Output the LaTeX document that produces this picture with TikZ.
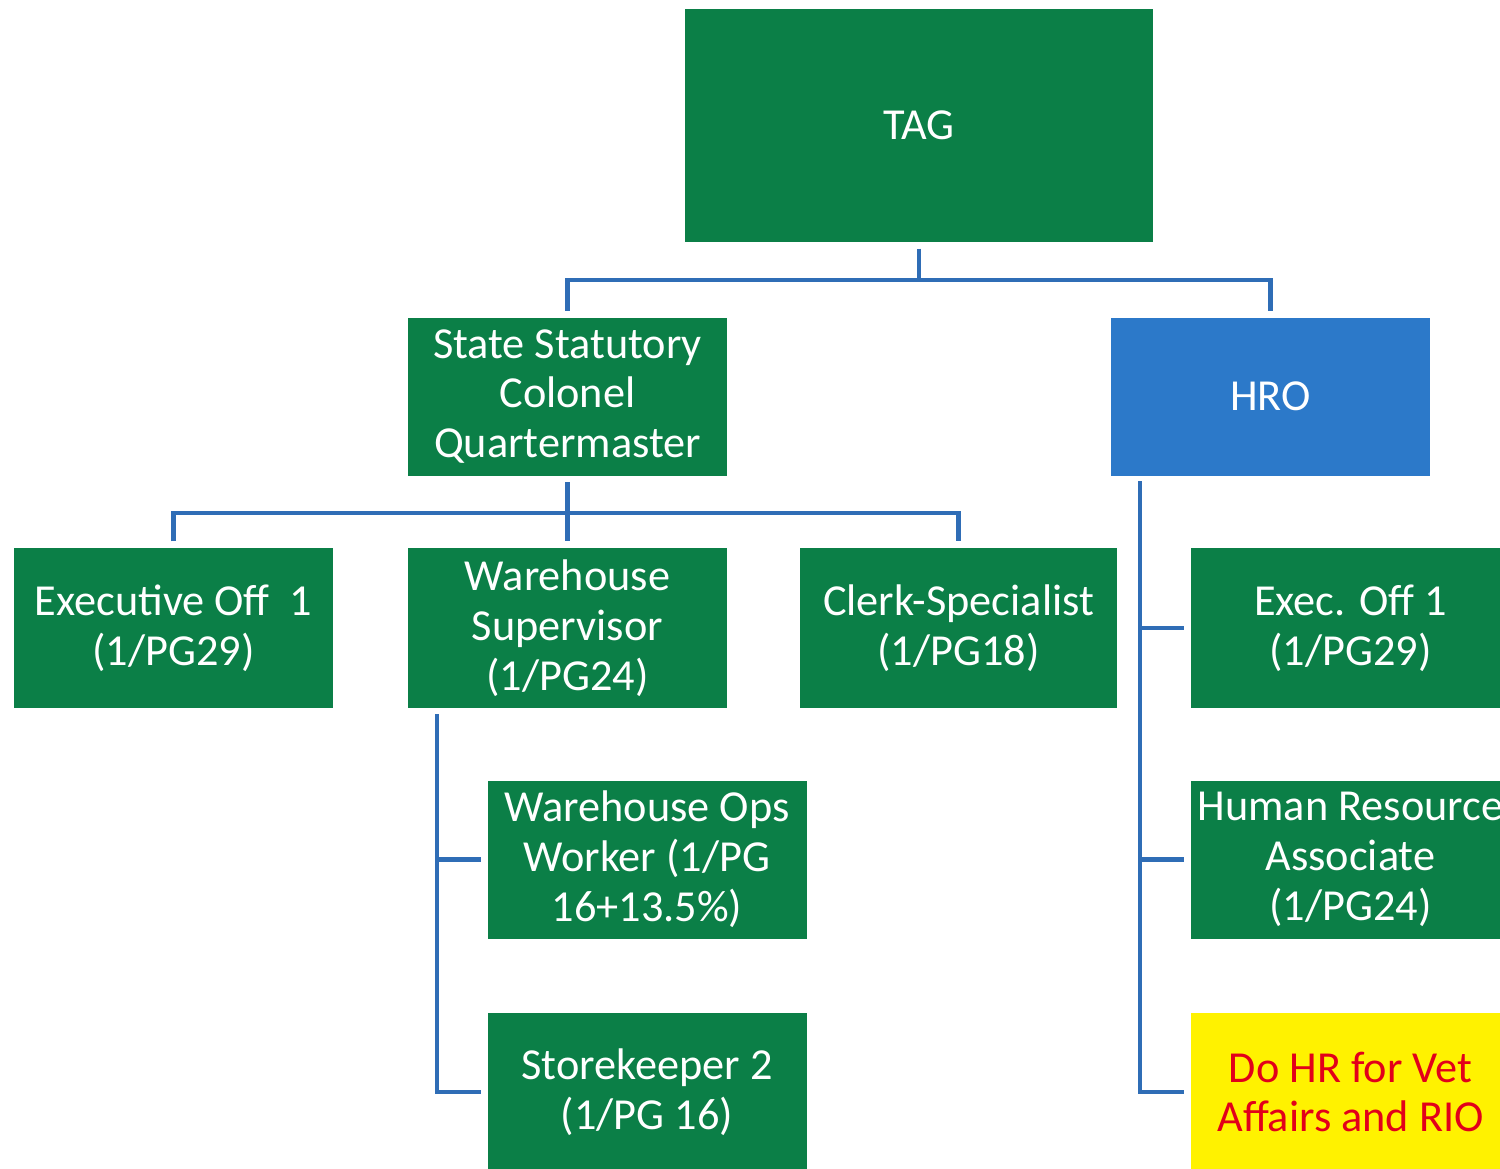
\documentclass[tikz,border=0pt]{standalone}
\usepackage{fontspec}
\setmainfont{Carlito}
\usepackage{xcolor}
\usetikzlibrary{positioning,calc}
\definecolor{orgGreen}{HTML}{0B7F47}
\definecolor{orgBlue}{HTML}{2C79C9}
\definecolor{lineBlue}{HTML}{2F6DB6}
\definecolor{noteRed}{HTML}{E2001A}
\tikzset{
  unit/.style={fill=orgGreen,text=white,align=center,inner sep=0pt,
    minimum width=3.19cm,minimum height=1.58cm,
    font=\fontsize{12.6}{14.2}\selectfont},
  hrobox/.style={unit,fill=orgBlue},
  notebox/.style={unit,fill=yellow,text=noteRed},
  conn/.style={draw=lineBlue,line width=1.15pt,shorten <=0.6mm,shorten >=0.6mm}
}
\begin{document}
\begin{tikzpicture}
\useasboundingbox (0,0) rectangle (15,-11.68);
% top level
\node[unit, minimum width=4.68cm, minimum height=2.33cm] (tag) at (9.19,-1.255) {TAG};
\node[unit] (sscq) at (5.675,-3.965) {State Statutory\\Colonel\\Quartermaster};
\node[hrobox] (hro) at (12.705,-3.965) {HRO};
% quartermaster staff
\node[unit, minimum height=1.60cm] (exec) at (1.735,-6.28) {Executive Off\ \ 1\\(1/PG29)};
\node[unit, minimum height=1.60cm] (whsup) at (5.675,-6.28) {Warehouse\\Supervisor\\(1/PG24)};
\node[unit, minimum width=3.17cm, minimum height=1.60cm] (clerk) at (9.585,-6.28) {Clerk-Specialist\\(1/PG18)};
\node[unit] (whops) at (6.47,-8.595) {Warehouse Ops\\Worker (1/PG\\16+13.5\%)};
\node[unit] (store) at (6.47,-10.92) {Storekeeper 2\\(1/PG 16)};
% HRO staff
\node[unit, minimum height=1.60cm] (hrexec) at (13.505,-6.28) {Exec. Off 1\\(1/PG29)};
\node[unit] (hrassoc) at (13.505,-8.595) {Human Resource\\Associate\\(1/PG24)};
\node[notebox] (vet) at (13.505,-10.92) {Do HR for Vet\\Affairs and RIO};
% connectors
\coordinate (bar1) at (9.19,-2.80);
\coordinate (bar2) at (5.675,-5.13);
\coordinate (whdrop) at (4.37,-7.08);
\coordinate (hrodrop) at (11.40,-4.75);
\draw[conn, shorten >=0pt] (tag.south) -- (bar1);
\draw[conn] (sscq.north) |- (bar1) -| (hro.north);
\draw[conn] (sscq.south) -- (whsup.north);
\draw[conn] (exec.north) |- (bar2) -| (clerk.north);
\draw[conn] (whdrop) |- (store.west);
\draw[conn, shorten <=0pt] (whdrop |- whops.west) -- (whops.west);
\draw[conn] (hrodrop) |- (vet.west);
\draw[conn, shorten <=0pt] (hrodrop |- hrexec.west) -- (hrexec.west);
\draw[conn, shorten <=0pt] (hrodrop |- hrassoc.west) -- (hrassoc.west);
\end{tikzpicture}
\end{document}
